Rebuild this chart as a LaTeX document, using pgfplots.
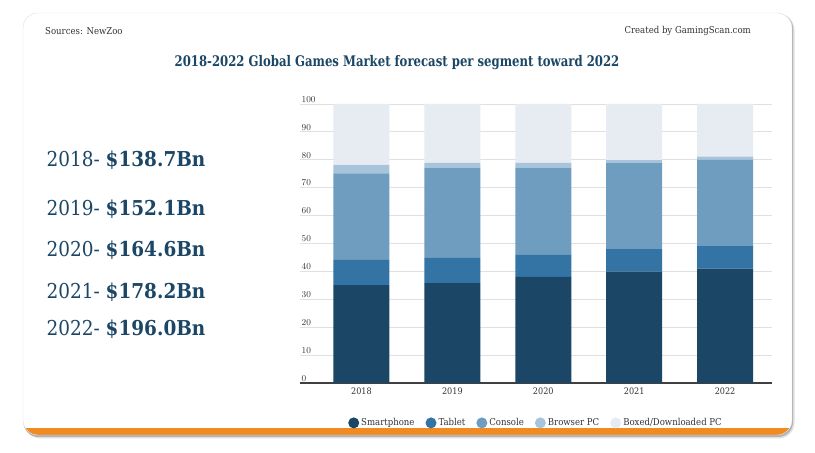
\documentclass[border=0pt]{standalone}
\usepackage{fontspec}
\setmainfont{DejaVu Serif}[FakeStretch=0.9]
\newfontfamily\titlefont{DejaVu Serif}[FakeStretch=0.8]
\usepackage{pgfplots}
\pgfplotsset{compat=1.18}
\definecolor{cSmart}{HTML}{1B4665}
\definecolor{cTab}{HTML}{3374A5}
\definecolor{cCon}{HTML}{6E9DC0}
\definecolor{cBrow}{HTML}{A7C4DA}
\definecolor{cBox}{HTML}{E6ECF2}
\definecolor{cTitle}{HTML}{1B4665}
\definecolor{cTxt}{HTML}{333333}
\definecolor{cOrange}{HTML}{F18A21}
\begin{document}
\begin{tikzpicture}[x=1pt,y=1pt]
\fill[white] (0,0) rectangle (815,453);
% card shadow
\fill[black!12, rounded corners=16pt] (24.5,14.5) rectangle (794.5,439);
\fill[black!30, rounded corners=15pt] (23.5,16) rectangle (793,439.5);
% card
\begin{scope}
\clip[rounded corners=15pt] (23,18) rectangle (792,440);
\fill[white] (23,18) rectangle (792,440);
\fill[cOrange] (23,18) rectangle (792,25);
\end{scope}
\draw[black!12, rounded corners=15pt] (23,18) rectangle (792,440);
% header texts
\node[anchor=west, font=\fontsize{9.5}{11}\selectfont, text=cTxt, inner sep=0] at (45,422) {Sources: NewZoo};
\node[anchor=east, font=\fontsize{9.5}{11}\selectfont, text=cTxt, inner sep=0] at (751,422) {Created by GamingScan.com};
\node[font=\fontsize{14.6}{17}\selectfont\titlefont\bfseries, text=cTitle, inner sep=0] at (397,390) {2018-2022 Global Games Market forecast per segment toward 2022};
% left totals
\foreach \yy/\yr/\val in {293/2018/138.7, 244/2019/152.1, 203/2020/164.6, 161/2021/178.2, 124/2022/196.0}{
  \node[font=\fontsize{20.5}{24}\selectfont, text=cTitle, inner sep=0] at (126,\yy) {\yr- \textbf{\$\val Bn}};
}
\begin{scope}[shift={(300pt,70pt)}]
\begin{axis}[
  scale only axis, width=472pt, height=279pt,
  ybar stacked, bar width=56pt,
  xmin=-0.676, xmax=4.516, ymin=0, ymax=100,
  xtick={0,1,2,3,4}, xticklabels={2018,2019,2020,2021,2022},
  ytick={0,10,...,100},
  axis x line*=bottom, axis y line*=left,
  x axis line style={draw=black!75, line width=1.2pt, -},
  y axis line style={draw=none},
  major tick length=0pt,
  tick style={draw=none},
  ymajorgrids, grid style={draw=black!12, line width=0.8pt},
  yticklabel style={anchor=south west, inner sep=1.5pt, xshift=0pt, font=\fontsize{9}{10}\selectfont, text=cTxt},
  xticklabel style={font=\fontsize{9}{10}\selectfont, text=cTxt, yshift=-1pt},
  legend style={at={(0.5,-0.143)}, anchor=center, draw=none, fill=none,
    font=\fontsize{9.5}{11}\selectfont, text=cTxt, legend columns=-1,
    /tikz/every even column/.append style={column sep=9pt}},
  legend image code/.code={\fill[#1] (3pt,0pt) circle (5.5pt);},
  legend cell align=left,
]
\addplot[fill=cSmart, draw=none] coordinates {(0,35.1) (1,35.8) (2,38.0) (3,39.9) (4,41.0)};
\addplot[fill=cTab, draw=none] coordinates {(0,9.0) (1,9.2) (2,8.1) (3,8.1) (4,8.1)};
\addplot[fill=cCon, draw=none] coordinates {(0,31.0) (1,32.2) (2,31.1) (3,31.0) (4,30.9)};
\addplot[fill=cBrow, draw=none] coordinates {(0,3.1) (1,1.7) (2,1.7) (3,0.9) (4,1.1)};
\addplot[fill=cBox, draw=none] coordinates {(0,21.8) (1,21.1) (2,21.1) (3,20.1) (4,18.9)};
\legend{Smartphone, Tablet, Console, Browser PC, Boxed/Downloaded PC}
\end{axis}
\end{scope}
\end{tikzpicture}
\end{document}
